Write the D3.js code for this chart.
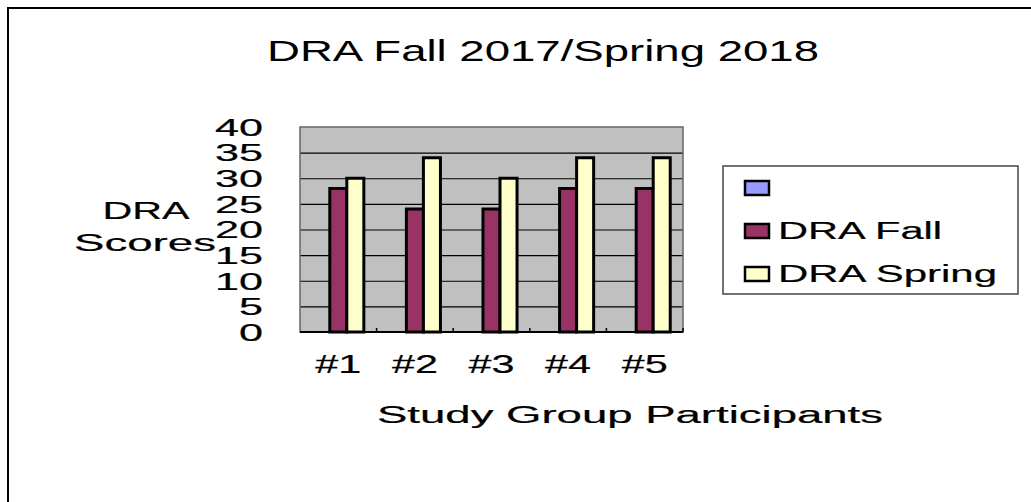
<!DOCTYPE html>
<html>
<head>
<meta charset="utf-8">
<script src="https://cdn.jsdelivr.net/npm/d3@7"></script>
<style>
  body { margin: 0; background: #fff; }
  text { font-family: "Liberation Sans", Arial, sans-serif; fill: #000; stroke: #000; stroke-width: 0.2px; }
  text.title { stroke-width: 0; }
</style>
</head>
<body>
<svg id="chart" width="1031" height="502"></svg>
<script>
// data
const participants = ["#1", "#2", "#3", "#4", "#5"];
const seriesNames = ["", "DRA Fall", "DRA Spring"];
const blankSeries = [null, null, null, null, null]; // unnamed series, no values
const draFall = [28, 24, 24, 28, 28];
const draSpring = [30, 34, 30, 34, 34];
const yTicks = [0, 5, 10, 15, 20, 25, 30, 35, 40];
const seriesColors = ["#9999ff", "#993366", "#ffffcc"];

const seriesValues = [blankSeries, draFall, draSpring];

const svg = d3.select("#chart");
const plot = { left: 300, right: 683, top: 127, bottom: 332 };

// outer chart frame
svg.append("rect")
  .attr("x", 8).attr("y", 8)
  .attr("width", 1040).attr("height", 520)
  .attr("fill", "none")
  .attr("stroke", "#000")
  .attr("stroke-width", 2);

// title
svg.append("text")
  .attr("class", "title")
  .attr("x", 543).attr("y", 61)
  .attr("text-anchor", "middle")
  .attr("font-size", 29)
  .attr("textLength", 552)
  .attr("lengthAdjust", "spacingAndGlyphs")
  .text("DRA Fall 2017/Spring 2018");

const x0 = d3.scaleBand()
  .domain(participants)
  .range([plot.left, plot.right])
  .padding(0);

const x1 = d3.scaleBand()
  .domain(d3.range(seriesNames.length))
  .range([0, x0.bandwidth()])
  .paddingInner(0)
  .paddingOuter(0.75);

const y = d3.scaleLinear()
  .domain([0, 40])
  .range([plot.bottom, plot.top]);

// plot background
svg.append("rect")
  .attr("x", plot.left).attr("y", plot.top)
  .attr("width", plot.right - plot.left)
  .attr("height", plot.bottom - plot.top)
  .attr("fill", "#c0c0c0");

// gridlines
const grid = svg.append("g")
  .attr("transform", `translate(${plot.left},0)`)
  .call(d3.axisLeft(y).tickValues(yTicks.slice(1, -1)).tickSize(-(plot.right - plot.left)).tickFormat(""));
grid.select(".domain").remove();
grid.selectAll("line").attr("stroke", "#000").attr("stroke-width", 1.2);

// plot border
svg.append("rect")
  .attr("x", plot.left).attr("y", plot.top)
  .attr("width", plot.right - plot.left)
  .attr("height", plot.bottom - plot.top)
  .attr("fill", "none")
  .attr("stroke", "#666")
  .attr("stroke-width", 1.5);

// bars
const groups = svg.append("g")
  .selectAll("g")
  .data(participants)
  .join("g")
  .attr("transform", d => `translate(${x0(d)},0)`);

groups.selectAll("rect")
  .data((d, i) => seriesValues.map((vals, s) => ({ s, v: vals[i] })).filter(d => d.v != null))
  .join("rect")
  .attr("x", d => x1(d.s))
  .attr("y", d => y(d.v))
  .attr("width", x1.bandwidth())
  .attr("height", d => y(0) - y(d.v))
  .attr("fill", d => seriesColors[d.s])
  .attr("stroke", "#000")
  .attr("stroke-width", 3);

// x axis line and inner ticks at category boundaries
svg.append("line")
  .attr("x1", plot.left).attr("x2", plot.right)
  .attr("y1", plot.bottom).attr("y2", plot.bottom)
  .attr("stroke", "#000").attr("stroke-width", 2);
svg.append("g")
  .selectAll("line")
  .data(participants)
  .join("line")
  .attr("x1", d => x0(d) + x0.bandwidth())
  .attr("x2", d => x0(d) + x0.bandwidth())
  .attr("y1", plot.bottom).attr("y2", plot.bottom - 4)
  .attr("stroke", "#000").attr("stroke-width", 1.5);

// y tick labels
const yAxis = svg.append("g")
  .attr("transform", "translate(263,0)")
  .call(d3.axisLeft(y).tickValues(yTicks).tickSize(0).tickPadding(0));
yAxis.select(".domain").remove();
yAxis.selectAll("text")
  .attr("font-size", 23)
  .attr("fill", "#000")
  .attr("dy", "0.36em")
  .attr("textLength", d => String(d).length * 24)
  .attr("lengthAdjust", "spacingAndGlyphs");

// x tick labels
const xAxis = svg.append("g")
  .attr("transform", `translate(0,${plot.bottom})`)
  .call(d3.axisBottom(x0).tickSize(0).tickPadding(0));
xAxis.select(".domain").remove();
xAxis.selectAll("text")
  .attr("font-size", 25)
  .attr("fill", "#000")
  .attr("dy", null)
  .attr("y", 41)
  .attr("textLength", 46)
  .attr("lengthAdjust", "spacingAndGlyphs");

// axis titles
const yTitle = svg.append("text")
  .attr("text-anchor", "middle")
  .attr("font-size", 23);
yTitle.append("tspan").attr("x", 146).attr("y", 219)
  .attr("textLength", 87).attr("lengthAdjust", "spacingAndGlyphs").text("DRA");
yTitle.append("tspan").attr("x", 145).attr("y", 251)
  .attr("textLength", 142).attr("lengthAdjust", "spacingAndGlyphs").text("Scores");

svg.append("text")
  .attr("x", 630).attr("y", 423)
  .attr("text-anchor", "middle")
  .attr("font-size", 23)
  .attr("textLength", 506)
  .attr("lengthAdjust", "spacingAndGlyphs")
  .text("Study Group Participants");

// legend
const legend = svg.append("g");
legend.append("rect")
  .attr("x", 723).attr("y", 166)
  .attr("width", 295).attr("height", 128)
  .attr("fill", "#fff")
  .attr("stroke", "#444")
  .attr("stroke-width", 1.5);

const legendItems = legend.selectAll("g")
  .data(seriesNames)
  .join("g")
  .attr("transform", (d, i) => `translate(745,${181 + i * 43})`);
legendItems.append("rect")
  .attr("width", 24).attr("height", 14)
  .attr("fill", (d, i) => seriesColors[i])
  .attr("stroke", "#000")
  .attr("stroke-width", 2.5);
legendItems.filter(d => d !== "").append("text")
  .attr("x", 33).attr("y", 15)
  .attr("font-size", 23)
  .attr("textLength", d => d === "DRA Fall" ? 164 : 219)
  .attr("lengthAdjust", "spacingAndGlyphs")
  .text(d => d);
</script>
</body>
</html>
